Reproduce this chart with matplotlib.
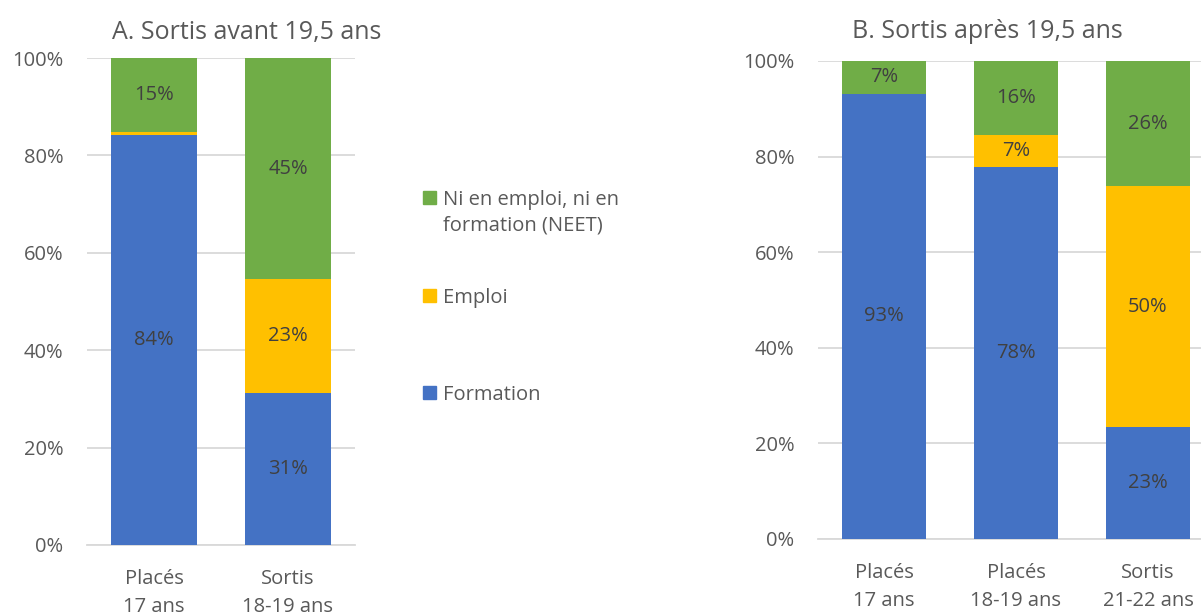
import numpy as np
import matplotlib.pyplot as plt
from matplotlib.patches import Rectangle

plt.rcParams['font.family'] = ['Open Sans', 'DejaVu Sans']

# data (%)
cats_a = ["Placés\n17 ans", "Sortis\n18-19 ans"]
formation_a = [84.2, 31.2]
emploi_a = [0.6, 23.4]
neet_a = [15.2, 45.4]

cats_b = ["Placés\n17 ans", "Placés\n18-19 ans", "Sortis\n21-22 ans"]
formation_b = [93.1, 77.8, 23.4]
emploi_b = [0.0, 6.7, 50.4]
neet_b = [6.9, 15.5, 26.2]

series_names = ["Formation", "Emploi", "Ni en emploi, ni en\nformation (NEET)"]
colors = ["#4472C4", "#FFC000", "#70AD47"]
grid_col = "#D9D9D9"
text_col = "#595959"
label_col = "#404040"

W, H = 1201, 614
fig = plt.figure(figsize=(W / 100, H / 100), dpi=100)


def draw_panel(ax, cats, series):
    x = np.arange(len(cats))
    bottom = np.zeros(len(cats))
    for vals, col, name in zip(series, colors, series_names):
        vals = np.array(vals)
        ax.bar(x, vals, 0.64, bottom=bottom, color=col, label=name, zorder=3)
        for xi, b, v in zip(x, bottom, vals):
            if v >= 3:
                ax.text(xi, b + v / 2, f"{v:.0f}%", ha="center", va="center",
                        fontsize=14.5, color=label_col, zorder=4)
        bottom = bottom + vals
    ax.set_xlim(-0.5, len(cats) - 0.5)
    ax.set_ylim(0, 100)
    ax.set_yticks(np.arange(0, 101, 20))
    ax.set_yticklabels([f"{v}%" for v in range(0, 101, 20)])
    ax.set_xticks(x)
    ax.set_xticklabels(cats, linespacing=1.55)
    ax.yaxis.grid(True, color=grid_col, linewidth=1.3, zorder=0)
    ax.set_axisbelow(True)
    for s in ["top", "right", "left"]:
        ax.spines[s].set_visible(False)
    ax.spines["bottom"].set_color(grid_col)
    ax.spines["bottom"].set_linewidth(1.3)
    ax.tick_params(length=0, labelsize=14.5, labelcolor=text_col)
    ax.tick_params(axis="x", pad=17)
    ax.tick_params(axis="y", pad=17)


ax_a = fig.add_axes([87 / W, (H - 545) / H, 268 / W, 487 / H])
draw_panel(ax_a, cats_a, [formation_a, emploi_a, neet_a])
fig.text(247 / W, 1 - 33 / H, "A. Sortis avant 19,5 ans", ha="center",
         va="center", fontsize=18, color=text_col)

ax_b = fig.add_axes([818 / W, (H - 539) / H, 396 / W, 478 / H])
draw_panel(ax_b, cats_b, [formation_b, emploi_b, neet_b])
fig.text(987 / W, 1 - 31 / H, "B. Sortis après 19,5 ans", ha="center",
         va="center", fontsize=18, color=text_col)

# legend (NEET on top, Formation at the bottom)
leg_y = [198, 296, 393]
for name, col, y in zip(series_names[::-1], colors[::-1], leg_y):
    fig.patches.append(Rectangle((423 / W, 1 - (y + 6) / H), 13 / W, 13 / H,
                                 transform=fig.transFigure, color=col))
    fig.text(443 / W, 1 - (y - 8) / H, name, ha="left", va="top",
             fontsize=14.5, color=text_col, linespacing=1.35)

fig.savefig("out.png", dpi=100)
